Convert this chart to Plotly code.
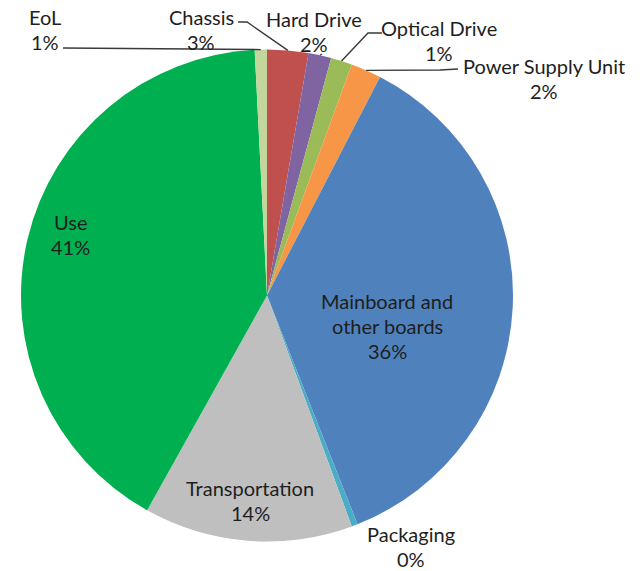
import math
import plotly.graph_objects as go

# ---- data ----
categories = ["Chassis", "Hard Drive", "Optical Drive", "Power Supply Unit",
              "Mainboard and<br>other boards", "Packaging", "Transportation", "Use", "EoL"]
values = [2.7, 1.5, 1.4, 2.0, 36.4, 0.4, 13.7, 41.1, 0.8]
colors = ["#C0504D", "#8064A2", "#9BBB59", "#F79646", "#4F81BD",
          "#4BACC6", "#BFBFBF", "#00B050", "#C3D69B"]

# ---- layout geometry (screen pixels) ----
W, H = 642, 571
CX, CY, R = 267, 295.5, 246
FONT = "Lato"
FS = 20
TXT = "#1e1e1e"
GAP = 25

# label first-line centre positions
label_pos = {
    "Chassis": (201, 17),
    "Hard Drive": (314, 19),
    "Optical Drive": (439, 28),
    "Power Supply Unit": (544, 66),
    "Mainboard and<br>other boards": (387, 301),
    "Packaging": (411, 534),
    "Transportation": (250, 488),
    "Use": (70, 222),
    "EoL": (45, 17),
}
# leader line start (and optional elbow)
leaders = {
    "EoL": [(63, 48)],
    "Chassis": [(238, 22), (247, 22)],
    "Hard Drive": [(322, 54)],
    "Optical Drive": [(382, 33), (368, 33)],
    "Power Supply Unit": [(458, 69), (440, 70)],
}

def px(x):
    return x / W

def py(y):
    return 1 - y / H

fig = go.Figure(go.Pie(
    labels=categories, values=values, sort=False, direction="clockwise",
    rotation=0, marker=dict(colors=colors, line=dict(width=0)),
    textinfo="none", hoverinfo="label+percent", showlegend=False,
    domain=dict(x=[px(CX - R), px(CX + R)], y=[py(CY + R), py(CY - R)]),
))

total = sum(values)
annotations = []
shapes = []
cum = 0.0
for name, v in zip(categories, values):
    mid = (cum + v / 2) / total * 2 * math.pi
    cum += v
    lines = name.split("<br>") + [f"{round(v / total * 100)}%"]
    lx, ly = label_pos[name]
    for i, t in enumerate(lines):
        annotations.append(dict(
            text=t, x=px(lx), y=py(ly + i * GAP), xref="paper", yref="paper",
            xanchor="center", yanchor="middle", showarrow=False,
            font=dict(family=FONT, size=FS, color=TXT)))
    if name in leaders:
        tipx = CX + R * math.sin(mid)
        tipy = CY - R * math.cos(mid)
        pts = leaders[name] + [(tipx, tipy)]
        path = "M " + " L ".join(f"{px(a):.5f},{py(b):.5f}" for a, b in pts)
        shapes.append(dict(type="path", path=path, xref="paper", yref="paper",
                           line=dict(color="#3a3a3a", width=1.4)))

fig.update_layout(
    width=W, height=H, margin=dict(l=0, r=0, t=0, b=0),
    paper_bgcolor="white", plot_bgcolor="white",
    annotations=annotations, shapes=shapes,
    font=dict(family=FONT, size=FS, color=TXT),
)

fig.write_html(
    "out.html",
    config={"displayModeBar": False},
    post_script="document.body.style.margin='0';document.body.style.overflow='hidden';",
)
